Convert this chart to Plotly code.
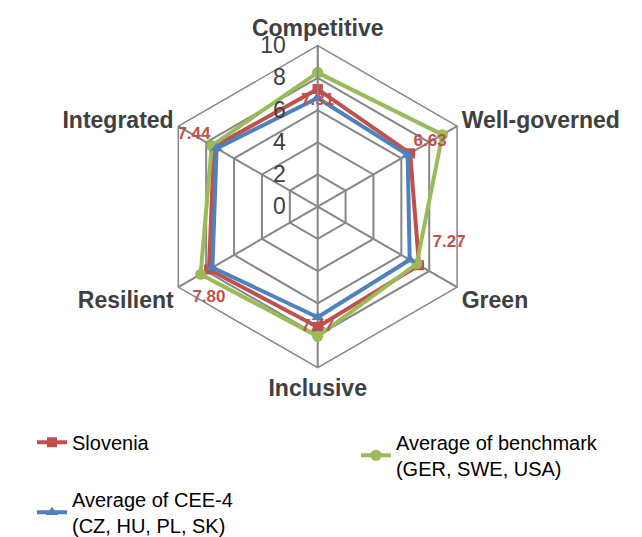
import plotly.graph_objects as go

# categories and scores
categories = ["Competitive", "Well-governed", "Green", "Inclusive", "Resilient", "Integrated"]
slovenia = [7.31, 6.63, 7.27, 7.47, 7.80, 7.44]
benchmark = [8.33, 8.95, 7.10, 8.05, 8.40, 7.60]
cee4 = [6.75, 6.45, 6.60, 6.87, 7.55, 7.25]

# where each Slovenia data label sits relative to its point
label_pos = ["bottom center", "top right", "top right", "middle center", "bottom center", "top left"]
label_gap = [4, 4, 20, 4, 30, 4]

red = "#C0504D"
green = "#9BBB59"
blue = "#4F81BD"
grid = "#868686"
font = "Liberation Sans, Arial"

def closed(v):
    return v + v[:1]

fig = go.Figure()

fig.add_trace(go.Scatterpolar(
    r=closed(slovenia), theta=closed(categories), mode="lines+markers", name="Slovenia",
    line=dict(color=red, width=4), marker=dict(symbol="square", size=10, color=red),
    legend="legend"))

fig.add_trace(go.Scatterpolar(
    r=closed(benchmark), theta=closed(categories), mode="lines+markers",
    name="Average of benchmark<br>(GER, SWE, USA)",
    line=dict(color=green, width=4), marker=dict(symbol="circle", size=11, color=green),
    legend="legend2"))

fig.add_trace(go.Scatterpolar(
    r=closed(cee4), theta=closed(categories), mode="lines+markers",
    name="Average of CEE-4<br>(CZ, HU, PL, SK)",
    line=dict(color=blue, width=4), marker=dict(symbol="triangle-up", size=11, color=blue),
    legend="legend3"))

# data labels for Slovenia (invisible markers only set the text offset)
fig.add_trace(go.Scatterpolar(
    r=slovenia, theta=categories, mode="markers+text", showlegend=False, hoverinfo="skip",
    marker=dict(size=label_gap, opacity=0),
    text=["%.2f" % v for v in slovenia], textposition=label_pos,
    textfont=dict(family=font, size=17, color=red, weight="bold")))

legend_font = dict(size=20, color="#000000")

fig.update_layout(
    width=642, height=537,
    margin=dict(l=0, r=0, t=0, b=0),
    paper_bgcolor="white", plot_bgcolor="white",
    font=dict(family=font, color="#404040"),
    polar=dict(
        domain=dict(x=[0.2279, 0.7369], y=[0.3201, 0.9287]),
        gridshape="linear",
        bgcolor="white",
        radialaxis=dict(
            range=[0, 10], tickvals=[0, 2, 4, 6, 8, 10], angle=90, tickangle=90,
            side="counterclockwise", showline=True, linecolor=grid, linewidth=1.5,
            gridcolor=grid, gridwidth=1.5, ticks="outside", ticklen=23,
            tickcolor="rgba(0,0,0,0)",
            tickfont=dict(size=23, color="#404040")),
        angularaxis=dict(
            rotation=90, direction="clockwise", showline=True, linecolor=grid,
            linewidth=1.5, gridcolor=grid, gridwidth=1.5, ticks="",
            tickfont=dict(size=23, color="#404040", weight="bold"))),
    legend=dict(x=0.0374, y=0.216, xanchor="left", yanchor="top", font=legend_font),
    legend2=dict(x=0.542, y=0.216, xanchor="left", yanchor="top", font=legend_font),
    legend3=dict(x=0.0374, y=0.108, xanchor="left", yanchor="top", font=legend_font),
)

fig.write_html("out.html")
